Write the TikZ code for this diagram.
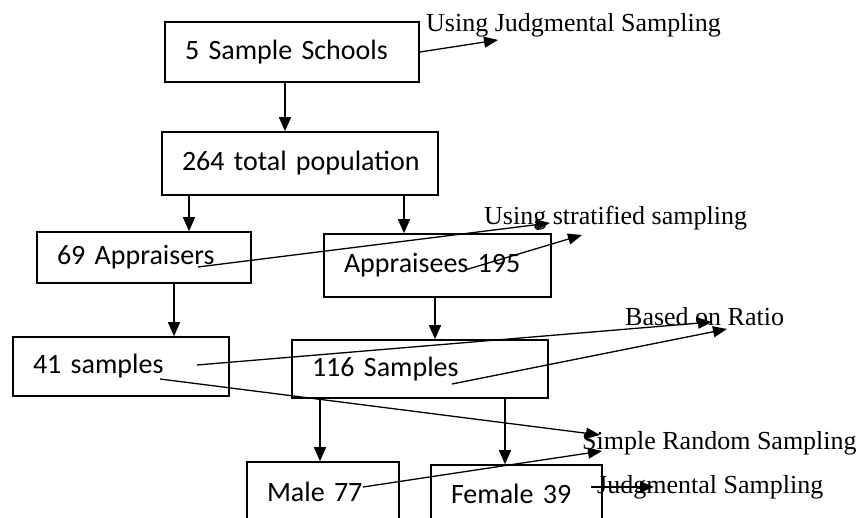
\documentclass[tikz,border=0pt]{standalone}
\usepackage{fontspec}
\setmainfont{Carlito}
\newfontfamily\serifnote{Liberation Serif}
\usetikzlibrary{arrows.meta}

\begin{document}
\begin{tikzpicture}[x=1pt, y=-1pt, >={Triangle[length=14pt, width=12pt]}, font=\fontsize{28}{32}\selectfont]
\tikzstyle{box}=[draw, line width=1.6pt, inner xsep=20pt, inner ysep=0pt, align=left, execute at begin node={\hyphenpenalty=10000 }]
\tikzstyle{note}=[inner sep=0pt, anchor=west, font=\serifnote\fontsize{26}{29}\selectfont]
\tikzstyle{flow}=[->, line width=1.5pt]
\tikzstyle{link}=[-{Triangle[length=14pt, width=11pt]}, line width=1.3pt]
\path[use as bounding box] (0,0) rectangle (860,518);
\clip (0,0) rectangle (860,518);

\node[box, text width=214pt, minimum height=60pt] (schools) at (292,52) {5~Sample~Schools};
\node[box, text width=236pt, minimum height=63pt] (pop) at (300,163.5) {264~total~population};
\node[box, text width=174pt, minimum height=51pt] (apr) at (144,257.5) {69~Appraisers};
\node[box, text width=187pt, minimum height=63pt] (ape) at (437.5,265.5) {Appraisees~195};
\node[box, text width=176pt, minimum height=59pt] (s41) at (121,366.5) {41~samples};
\node[box, text width=216pt, minimum height=58pt] (s116) at (420,369) {116~Samples};
\node[box, text width=112pt, minimum height=60pt] (male) at (323,492) {Male~77};
\node[box, text width=131pt, minimum height=57pt] (female) at (516.5,493.5) {Female~39};

\node[note] (judg) at (426,25) {Using Judgmental Sampling};
\node[note] (strat) at (484,218) {Using stratified sampling};
\node[note] (ratio) at (625,317) {Based on Ratio};
\node[note] (srs) at (582,443) {Simple Random Sampling};
\node[note] (judg2) at (597,487) {Judgmental Sampling};

\coordinate (t-judg) at (498,40);
\coordinate (apr-out) at (198,267);
\coordinate (t-strat1) at (550,223);
\coordinate (ape-out) at (465,270);
\coordinate (t-strat2) at (582,235);
\coordinate (s41-out) at (197,365);
\coordinate (t-ratio1) at (712,322);
\coordinate (s116-out) at (452,384);
\coordinate (t-ratio2) at (727,329);
\coordinate (s41-out2) at (160,379);
\coordinate (t-srs1) at (600,435);
\coordinate (male-out) at (363,487);
\coordinate (t-srs2) at (602,451);
\coordinate (female-out) at (591,487);
\coordinate (t-judg2) at (654,487);

\draw[flow] ([xshift=-7pt]schools.south) -- ([xshift=-7pt]schools.south |- pop.north);
\draw[flow] ([xshift=45pt]apr.north |- pop.south) -- ([xshift=45pt]apr.north);
\draw[flow] ([xshift=-33.5pt]ape.north |- pop.south) -- ([xshift=-33.5pt]ape.north);
\draw[flow] ([xshift=30pt]apr.south) -- ([xshift=30pt]apr.south |- s41.north);
\draw[flow] ([xshift=-2.5pt]ape.south) -- ([xshift=-2.5pt]ape.south |- s116.north);
\draw[flow] ([xshift=-3pt]male.north |- s116.south) -- ([xshift=-3pt]male.north);
\draw[flow] ([xshift=-11.5pt]female.north |- s116.south) -- ([xshift=-11.5pt]female.north);

\draw[link] (schools.east) -- (t-judg);
\draw[link] (apr-out) -- (t-strat1);
\draw[link] (ape-out) -- (t-strat2);
\draw[link] (s41-out) -- (t-ratio1);
\draw[link] (s116-out) -- (t-ratio2);
\draw[link] (s41-out2) -- (t-srs1);
\draw[link] (male-out) -- (t-srs2);
\draw[link] (female-out) -- (t-judg2);
\end{tikzpicture}
\end{document}
